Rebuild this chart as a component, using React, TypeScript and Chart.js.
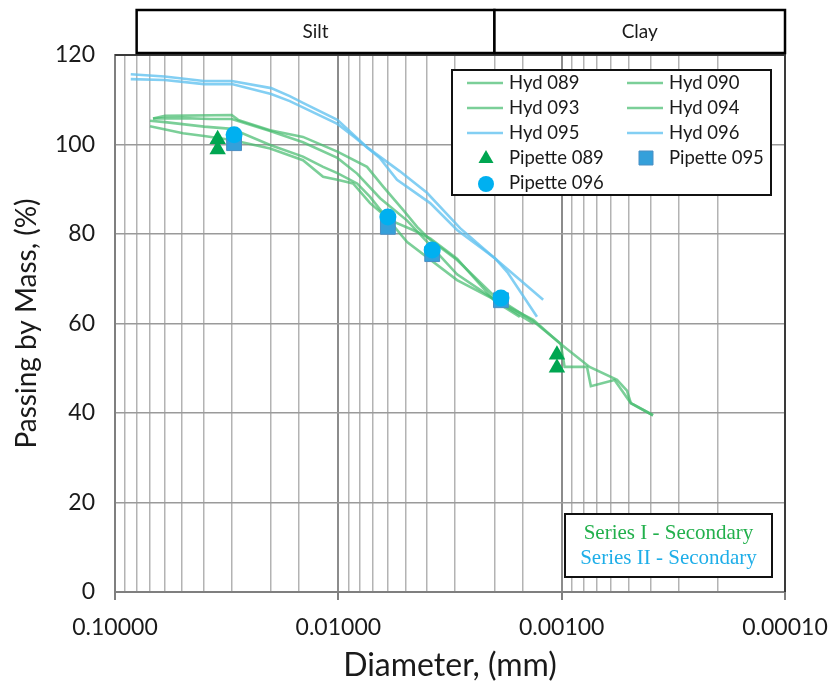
import React, { useEffect, useRef } from 'react';
import { Chart, registerables } from 'chart.js';

Chart.register(...registerables);

// Hydrometer curves: particle diameter (mm) and percent passing
const hyd089Diam = [0.0676, 0.0597, 0.03, 0.0281, 0.0202, 0.0144, 0.0101, 0.00744, 0.0063, 0.00513, 0.00444, 0.00388, 0.00294, 0.00199, 0.00134, 0.00101, 0.00097, 0.00077, 0.00074, 0.00058, 0.00049, 0.00039];
const hyd089Pass = [105.8, 106.4, 106.6, 105.5, 103.2, 101.7, 98.4, 95.0, 90.6, 85.4, 81.6, 78.7, 74.2, 66.0, 60.5, 55.5, 50.3, 50.3, 46.0, 47.4, 42.2, 39.5];

const hyd090Diam = [0.0676, 0.0496, 0.0375, 0.03, 0.0202, 0.0144, 0.0101, 0.00824, 0.0065, 0.00492, 0.00388, 0.00294, 0.00199, 0.00134, 0.00102, 0.00075, 0.000565, 0.00051, 0.00049, 0.00039];
const hyd090Pass = [105.8, 105.9, 105.7, 105.7, 103.0, 100.5, 97.0, 93.5, 88.0, 83.0, 77.5, 71.0, 65.3, 60.8, 55.6, 50.3, 47.4, 45.0, 42.2, 39.5];

const hyd093Diam = [0.0697, 0.0496, 0.0399, 0.03, 0.0202, 0.0144, 0.0117, 0.0101, 0.00859, 0.00721, 0.00587, 0.00463, 0.00388, 0.00294, 0.00199, 0.00154];
const hyd093Pass = [104.1, 102.5, 101.9, 101.0, 99.1, 96.5, 92.8, 92.1, 91.3, 86.9, 83.1, 80.9, 79.0, 74.5, 65.0, 61.5];

const hyd094Diam = [0.0697, 0.0597, 0.0399, 0.03, 0.0202, 0.0144, 0.0117, 0.0101, 0.00824, 0.00721, 0.0063, 0.00492, 0.00294, 0.00199, 0.00134];
const hyd094Pass = [105.3, 105.0, 104.0, 103.5, 99.9, 97.3, 95.0, 93.6, 91.3, 88.3, 84.6, 78.2, 69.7, 65.3, 60.0];

const hyd095Diam = [0.085, 0.06, 0.04, 0.03, 0.02, 0.0165, 0.0101, 0.0084, 0.0065, 0.00546, 0.00388, 0.00294, 0.00199, 0.00174, 0.00129];
const hyd095Pass = [114.6, 114.4, 113.5, 113.5, 111.3, 109.7, 104.6, 101.5, 96.9, 92.1, 86.9, 80.9, 74.6, 71.3, 61.5];

const hyd096Diam = [0.085, 0.06, 0.04, 0.03, 0.02, 0.0165, 0.0144, 0.0101, 0.0074, 0.0053, 0.00401, 0.00285, 0.00203, 0.00121];
const hyd096Pass = [115.7, 115.2, 114.2, 114.2, 112.6, 110.8, 109.3, 105.5, 99.3, 94.0, 89.2, 81.3, 74.9, 65.3];

// Pipette results
const pip089Diam = [0.0347, 0.0347, 0.00105, 0.00105];
const pip089Pass = [101.2, 98.9, 53.0, 50.1];

const pip095Diam = [0.0293, 0.006, 0.0038, 0.00187];
const pip095Pass = [100.3, 81.6, 75.5, 65.2];

const pip096Diam = [0.0293, 0.006, 0.0038, 0.00187];
const pip096Pass = [102.2, 83.8, 76.4, 65.7];

// Soil fraction bands along the top (diameter bounds, mm)
const bandNames = ['Silt', 'Clay'];
const bandBounds = [0.08, 0.002, 0.0001];

const yTicks = [0, 20, 40, 60, 80, 100, 120];

const GREEN_LINE = 'rgba(72, 188, 112, 0.72)';
const BLUE_LINE = 'rgba(96, 194, 240, 0.78)';
const GREEN_MARK = '#00a651';
const BLUE_CIRCLE = '#00b0f0';
const BLUE_SQUARE = '#35a0da';

const FONT = 'Lato, "Noto Sans", sans-serif';

const pts = (d: number[], v: number[]) => d.map((x, i) => ({ x, y: v[i] }));

const isDecade = (v: number) => Math.abs(Math.log10(v) - Math.round(Math.log10(v))) < 1e-6;

const lineSet = (label: string, d: number[], v: number[], color: string) => ({
  type: 'line' as const,
  label,
  data: pts(d, v),
  borderColor: color,
  backgroundColor: color,
  borderWidth: 2.6,
  pointRadius: 0,
  tension: 0,
  fill: false,
  order: 3,
});

const markSet = (label: string, d: number[], v: number[], style: string, color: string, radius: number, order: number, border?: string) => ({
  type: 'scatter' as const,
  label,
  data: pts(d, v),
  pointStyle: style,
  pointRadius: radius,
  pointBackgroundColor: color,
  pointBorderColor: border || color,
  pointBorderWidth: border ? 1 : 0,
  backgroundColor: color,
  borderColor: border || color,
  showLine: false,
  order,
});

const decorPlugin = {
  id: 'decor',
  afterDraw(chart: any) {
    const { ctx, chartArea: a, scales } = chart;
    const xs = scales.x;
    ctx.save();

    // top and right edges of the plot frame
    ctx.strokeStyle = '#3a3a3a';
    ctx.lineWidth = 2;
    ctx.beginPath();
    ctx.moveTo(a.left, a.top);
    ctx.lineTo(a.right, a.top);
    ctx.lineTo(a.right, a.bottom);
    ctx.stroke();

    // Silt / Clay bands
    const bTop = 10;
    const bBot = a.top - 2;
    for (let i = 0; i < bandNames.length; i++) {
      const x0 = xs.getPixelForValue(bandBounds[i]);
      const x1 = xs.getPixelForValue(bandBounds[i + 1]);
      ctx.fillStyle = '#ffffff';
      ctx.fillRect(x0, bTop, x1 - x0, bBot - bTop);
      ctx.strokeStyle = '#000000';
      ctx.lineWidth = 2.5;
      ctx.strokeRect(x0, bTop, x1 - x0, bBot - bTop);
      ctx.fillStyle = '#1a1a1a';
      ctx.font = `19px ${FONT}`;
      ctx.textAlign = 'center';
      ctx.textBaseline = 'middle';
      ctx.fillText(bandNames[i], (x0 + x1) / 2, (bTop + bBot) / 2);
    }

    // legend
    const lx0 = 452, ly0 = 70, lx1 = 771, ly1 = 195;
    ctx.fillStyle = '#ffffff';
    ctx.fillRect(lx0, ly0, lx1 - lx0, ly1 - ly0);
    ctx.strokeStyle = '#111111';
    ctx.lineWidth = 2;
    ctx.strokeRect(lx0, ly0, lx1 - lx0, ly1 - ly0);
    const colX = [467, 627];
    chart.data.datasets.forEach((ds: any, i: number) => {
      const col = i % 2;
      const row = Math.floor(i / 2);
      const cx = colX[col];
      const cy = 83 + row * 25;
      if (ds.type === 'line') {
        ctx.strokeStyle = ds.borderColor;
        ctx.lineWidth = 2.6;
        ctx.beginPath();
        ctx.moveTo(cx, cy);
        ctx.lineTo(cx + 36, cy);
        ctx.stroke();
      } else {
        const mx = cx + 19;
        ctx.fillStyle = ds.pointBackgroundColor;
        ctx.beginPath();
        if (ds.pointStyle === 'triangle') {
          ctx.moveTo(mx, cy - 8);
          ctx.lineTo(mx + 7.5, cy + 5);
          ctx.lineTo(mx - 7.5, cy + 5);
          ctx.closePath();
          ctx.fill();
        } else if (ds.pointStyle === 'rect') {
          ctx.rect(mx - 7, cy - 7, 14, 14);
          ctx.fill();
          ctx.strokeStyle = ds.pointBorderColor;
          ctx.lineWidth = 1;
          ctx.stroke();
        } else {
          ctx.arc(mx, cy + 1, 8, 0, Math.PI * 2);
          ctx.fill();
        }
      }
      ctx.fillStyle = '#1a1a1a';
      ctx.font = `18.5px ${FONT}`;
      ctx.textAlign = 'left';
      ctx.textBaseline = 'middle';
      ctx.fillText(ds.label, cx + 42, cy);
    });

    // series note box
    const tx0 = 565, ty0 = 514, tx1 = 772, ty1 = 577;
    ctx.fillStyle = '#ffffff';
    ctx.fillRect(tx0, ty0, tx1 - tx0, ty1 - ty0);
    ctx.strokeStyle = '#111111';
    ctx.lineWidth = 2;
    ctx.strokeRect(tx0, ty0, tx1 - tx0, ty1 - ty0);
    ctx.font = '21px "Liberation Serif", "Times New Roman", serif';
    ctx.textAlign = 'center';
    ctx.textBaseline = 'middle';
    ctx.fillStyle = '#22b04c';
    ctx.fillText('Series I - Secondary', (tx0 + tx1) / 2, 533);
    ctx.fillStyle = '#1eaee8';
    ctx.fillText('Series II - Secondary', (tx0 + tx1) / 2, 558);

    ctx.restore();
  },
};

export default function App() {
  const canvasRef = useRef<HTMLCanvasElement | null>(null);

  useEffect(() => {
    const canvas = canvasRef.current;
    if (!canvas) return;
    const chart = new Chart(canvas, {
      type: 'line',
      data: {
        datasets: [
          lineSet('Hyd 089', hyd089Diam, hyd089Pass, GREEN_LINE),
          lineSet('Hyd 090', hyd090Diam, hyd090Pass, GREEN_LINE),
          lineSet('Hyd 093', hyd093Diam, hyd093Pass, GREEN_LINE),
          lineSet('Hyd 094', hyd094Diam, hyd094Pass, GREEN_LINE),
          lineSet('Hyd 095', hyd095Diam, hyd095Pass, BLUE_LINE),
          lineSet('Hyd 096', hyd096Diam, hyd096Pass, BLUE_LINE),
          markSet('Pipette 089', pip089Diam, pip089Pass, 'triangle', GREEN_MARK, 9.5, 0),
          markSet('Pipette 095', pip095Diam, pip095Pass, 'rect', BLUE_SQUARE, 10.5, 1, '#4a8fc4'),
          markSet('Pipette 096', pip096Diam, pip096Pass, 'circle', BLUE_CIRCLE, 8.5, 0),
        ] as any,
      },
      options: {
        animation: false,
        responsive: false,
        maintainAspectRatio: false,
        layout: { padding: { top: 55, right: 48, left: 0, bottom: 0 } },
        plugins: {
          legend: { display: false },
          tooltip: { enabled: false },
        },
        scales: {
          x: {
            type: 'logarithmic',
            reverse: true,
            min: 0.0001,
            max: 0.1,
            afterFit: (s: any) => {
              s.height = 97;
              s.paddingLeft = 0;
              s.paddingRight = 0;
            },
            border: { color: '#7f7f7f', width: 2 },
            grid: {
              color: (c: any) => (c.tick && isDecade(c.tick.value) ? '#8c8c8c' : '#b3b3b3'),
              lineWidth: (c: any) => (c.tick && isDecade(c.tick.value) ? 2 : 1.5),
              tickColor: (c: any) => (c.tick && isDecade(c.tick.value) ? '#7f7f7f' : 'rgba(0,0,0,0)'),
              tickLength: 8,
              drawTicks: true,
            },
            ticks: {
              autoSkip: false,
              maxRotation: 0,
              padding: 14,
              color: '#1a1a1a',
              font: { family: FONT, size: 23 },
              callback: (v: any) => (isDecade(Number(v)) ? Number(v).toFixed(5) : ''),
            },
            title: {
              display: true,
              text: 'Diameter, (mm)',
              color: '#1a1a1a',
              font: { family: FONT, size: 32 },
              padding: { top: 0, bottom: 4 },
            },
          },
          y: {
            type: 'linear',
            min: 0,
            max: 120,
            afterFit: (s: any) => { s.width = 115; },
            afterBuildTicks: (s: any) => { s.ticks = yTicks.map((value) => ({ value })); },
            border: { color: '#7f7f7f', width: 2 },
            grid: { color: '#9a9a9a', lineWidth: 1.5, drawTicks: false },
            ticks: {
              padding: 20,
              color: '#1a1a1a',
              font: { family: FONT, size: 23 },
            },
            title: {
              display: true,
              text: 'Passing by Mass, (%)',
              color: '#1a1a1a',
              font: { family: FONT, size: 28 },
              padding: { top: 10, bottom: 0 },
            },
          },
        },
      },
      plugins: [decorPlugin],
    });
    return () => chart.destroy();
  }, []);

  return (
    <div style={{ position: 'absolute', left: 0, top: 0, width: 833, height: 689, background: '#ffffff' }}>
      <canvas ref={canvasRef} width={833} height={689} style={{ display: 'block' }} />
    </div>
  );
}
